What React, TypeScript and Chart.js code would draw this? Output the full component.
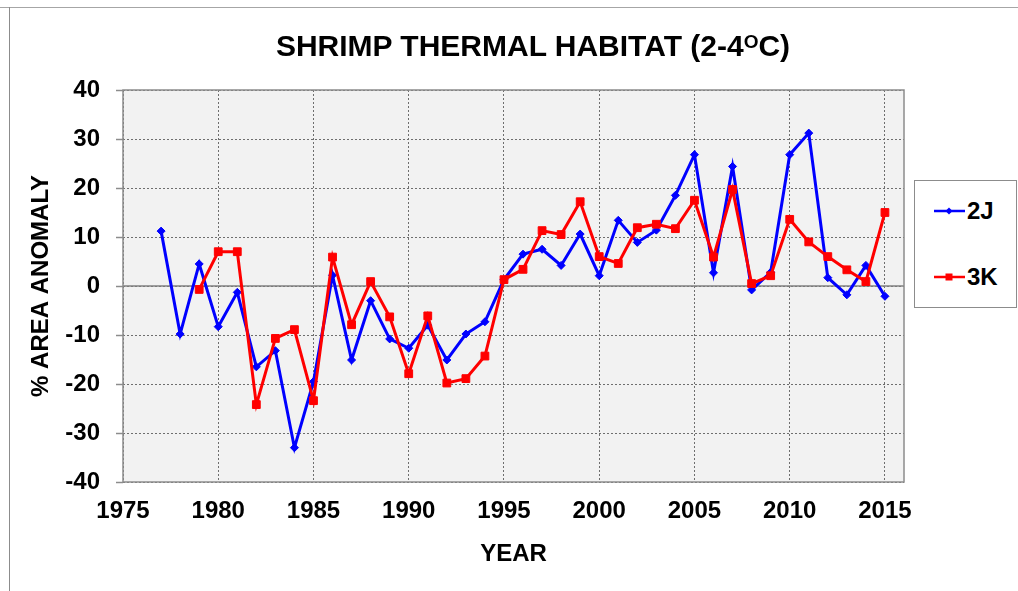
import React, { useEffect, useRef } from 'react';
import { Chart, registerables } from 'chart.js';

Chart.register(...registerables);

const years2J = [1977, 1978, 1979, 1980, 1981, 1982, 1983, 1984, 1985, 1986, 1987, 1988, 1989, 1990, 1991, 1992, 1993, 1994, 1995, 1996, 1997, 1998, 1999, 2000, 2001, 2002, 2003, 2004, 2005, 2006, 2007, 2008, 2009, 2010, 2011, 2012, 2013, 2014, 2015];
const values2J = [11.2, -9.8, 4.5, -8.3, -1.3, -16.5, -13.2, -33.0, -19.5, 2.2, -15.1, -3.0, -10.8, -12.7, -8.0, -15.1, -9.8, -7.3, 1.3, 6.5, 7.5, 4.2, 10.6, 2.1, 13.4, 8.9, 11.4, 18.5, 26.8, 2.7, 24.4, -0.8, 2.8, 26.8, 31.2, 1.7, -1.8, 4.2, -2.1];

const years3K = [1979, 1980, 1981, 1982, 1983, 1984, 1985, 1986, 1987, 1988, 1989, 1990, 1991, 1992, 1993, 1994, 1995, 1996, 1997, 1998, 1999, 2000, 2001, 2002, 2003, 2004, 2005, 2006, 2007, 2008, 2009, 2010, 2011, 2012, 2013, 2014, 2015];
const values3K = [-0.7, 7.0, 7.0, -24.2, -10.7, -8.9, -23.4, 5.9, -7.9, 0.9, -6.3, -17.9, -6.1, -19.8, -18.9, -14.3, 1.3, 3.4, 11.3, 10.5, 17.2, 6.0, 4.6, 11.9, 12.6, 11.7, 17.5, 5.9, 19.7, 0.5, 2.1, 13.6, 9.0, 6.0, 3.3, 0.9, 15.0];

const seriesNames = ['2J', '3K'];
const seriesColors = ['#0000ff', '#ff0000'];

const xMin = 1975;
const xMax = 2016;
const xStep = 5;
const yMin = -40;
const yMax = 40;
const yStep = 10;

const titleMain = 'SHRIMP THERMAL HABITAT (2-4';
const titleSup = 'O';
const titleEnd = 'C)';
const xTitle = 'YEAR';
const yTitle = '% AREA ANOMALY';

const FONT = '"Liberation Sans", Arial, sans-serif';

const plotDecor = {
  id: 'plotDecor',
  beforeDraw(chart: any) {
    const { ctx, chartArea } = chart;
    ctx.save();
    ctx.fillStyle = '#f2f2f2';
    ctx.fillRect(chartArea.left, chartArea.top, chartArea.right - chartArea.left, chartArea.bottom - chartArea.top);
    ctx.restore();
  },
  beforeDatasetsDraw(chart: any) {
    const { ctx, chartArea, scales } = chart;
    const y0 = scales.y.getPixelForValue(0);
    ctx.save();
    ctx.strokeStyle = '#808080';
    ctx.lineWidth = 1.5;
    ctx.setLineDash([]);
    ctx.beginPath();
    ctx.moveTo(chartArea.left, y0);
    ctx.lineTo(chartArea.right, y0);
    ctx.stroke();
    ctx.strokeStyle = '#8c8c8c';
    ctx.lineWidth = 1.5;
    ctx.strokeRect(chartArea.left, chartArea.top, chartArea.right - chartArea.left, chartArea.bottom - chartArea.top);
    ctx.restore();
  },
};

function LegendItem({ name, color, square, top }: { name: string; color: string; square: boolean; top: number }) {
  return (
    <div style={{ position: 'absolute', left: 0, top, width: 103, height: 24 }}>
      <svg width={32} height={14} style={{ position: 'absolute', left: 19, top: 5 }}>
        <line x1={0} y1={7} x2={31} y2={7} stroke={color} strokeWidth={2.5} />
        {square ? (
          <rect x={11.5} y={3.5} width={7} height={7} fill={color} />
        ) : (
          <polygon points="15,3.5 18.5,7 15,10.5 11.5,7" fill={color} />
        )}
      </svg>
      <div
        style={{
          position: 'absolute',
          left: 52,
          top: 0,
          font: `bold 24px ${FONT}`,
          lineHeight: '24px',
          color: '#000',
          whiteSpace: 'nowrap',
        }}
      >
        {name}
      </div>
    </div>
  );
}

export default function App() {
  const canvasRef = useRef<HTMLCanvasElement | null>(null);

  useEffect(() => {
    if (!canvasRef.current) return;
    const data2J = years2J.map((yr, i) => ({ x: yr, y: values2J[i] }));
    const data3K = years3K.map((yr, i) => ({ x: yr, y: values3K[i] }));
    const chart = new Chart(canvasRef.current, {
      type: 'line',
      data: {
        datasets: [
          {
            label: seriesNames[0],
            data: data2J,
            borderColor: seriesColors[0],
            backgroundColor: seriesColors[0],
            borderWidth: 3,
            pointStyle: 'rectRot',
            pointRadius: 4,
            pointBorderWidth: 1,
            tension: 0,
            order: 1,
          },
          {
            label: seriesNames[1],
            data: data3K,
            borderColor: seriesColors[1],
            backgroundColor: seriesColors[1],
            borderWidth: 3,
            pointStyle: 'rect',
            pointRadius: 5.5,
            pointBorderWidth: 1,
            tension: 0,
            order: 0,
          },
        ],
      },
      options: {
        animation: false,
        responsive: false,
        events: [],
        layout: { padding: { left: 27, top: 90, right: 114, bottom: 22 } },
        plugins: {
          legend: { display: false },
          tooltip: { enabled: false },
          title: { display: false },
        },
        scales: {
          x: {
            type: 'linear',
            min: xMin,
            max: xMax,
            afterFit: (scale: any) => {
              scale.height = 87;
            },
            ticks: {
              stepSize: xStep,
              includeBounds: false,
              autoSkip: false,
              maxRotation: 0,
              padding: 15,
              color: '#000',
              font: { family: FONT, size: 24, weight: 'bold' },
              callback: (v: any) => String(v),
            },
            grid: {
              color: '#6e6e6e',
              lineWidth: 1,
              drawTicks: false,
            },
            border: { display: false, dash: [2, 2] },
            title: {
              display: true,
              text: xTitle,
              color: '#000',
              padding: 0,
              font: { family: FONT, size: 24, weight: 'bold' },
            },
          },
          y: {
            type: 'linear',
            min: yMin,
            max: yMax,
            afterFit: (scale: any) => {
              scale.width = 96;
            },
            ticks: {
              stepSize: yStep,
              padding: 16,
              color: '#000',
              font: { family: FONT, size: 24, weight: 'bold' },
              callback: (v: any) => String(v),
            },
            grid: {
              color: '#6e6e6e',
              lineWidth: 1,
              drawTicks: true,
              tickLength: 7,
              tickColor: '#8c8c8c',
              tickWidth: 1.5,
              tickBorderDash: [],
            },
            border: { display: false, dash: [2, 2] },
            title: {
              display: true,
              text: yTitle,
              color: '#000',
              padding: 0,
              font: { family: FONT, size: 24, weight: 'bold' },
            },
          },
        },
      },
      plugins: [plotDecor],
    } as any);
    return () => chart.destroy();
  }, []);

  return (
    <div style={{ position: 'fixed', left: 0, top: 0, width: 1018, height: 591, background: '#fff', overflow: 'hidden' }}>
      <div style={{ position: 'absolute', left: 0, top: 7, width: 1018, height: 0, borderTop: '1px solid #a6a6a6' }} />
      <div style={{ position: 'absolute', left: 9, top: 7, width: 0, height: 584, borderLeft: '1px solid #8c8c8c' }} />
      <canvas ref={canvasRef} width={1018} height={591} style={{ position: 'absolute', left: 0, top: 0, width: 1018, height: 591 }} />
      <div
        style={{
          position: 'absolute',
          left: 33,
          top: 31,
          width: 1000,
          textAlign: 'center',
          font: `bold 30px ${FONT}`,
          lineHeight: '30px',
          color: '#000',
          whiteSpace: 'nowrap',
        }}
      >
        {titleMain}
        <span style={{ fontSize: 19, position: 'relative', top: -8 }}>{titleSup}</span>
        {titleEnd}
      </div>
      <div
        style={{
          position: 'absolute',
          left: 914,
          top: 180,
          width: 103,
          height: 128,
          boxSizing: 'border-box',
          border: '1px solid #8c8c8c',
          background: '#fff',
        }}
      >
        <LegendItem name={seriesNames[0]} color={seriesColors[0]} square={false} top={18} />
        <LegendItem name={seriesNames[1]} color={seriesColors[1]} square={true} top={84} />
      </div>
    </div>
  );
}
